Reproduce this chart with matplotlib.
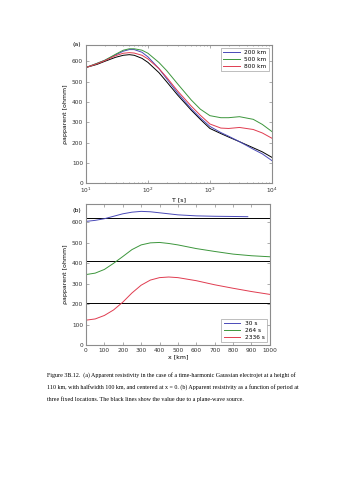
import matplotlib
matplotlib.use('Agg')
import matplotlib.pyplot as plt

# (a) apparent resistivity vs period
T = [10, 15, 20, 30, 40, 50, 60, 80, 100, 150, 200, 300, 500, 700, 1000, 1500, 2000, 3000, 5000, 7000, 10000]
rho_plane = [570, 585, 600, 620, 630, 633, 630, 615, 595, 545, 500, 435, 360, 315, 270, 245, 228, 205, 175, 155, 128]
rho_200 = [570, 590, 605, 632, 650, 658, 658, 645, 622, 565, 515, 445, 367, 322, 280, 250, 232, 205, 168, 145, 112]
rho_500 = [570, 590, 605, 635, 655, 662, 662, 655, 640, 595, 555, 490, 410, 365, 333, 323, 323, 328, 315, 290, 255]
rho_800 = [570, 588, 603, 628, 640, 643, 641, 630, 612, 565, 522, 455, 380, 335, 292, 272, 270, 275, 265, 248, 222]
labels_a = ['200 km', '500 km', '800 km']

# (b) apparent resistivity vs position
x_30 = [0, 50, 100, 150, 200, 250, 300, 350, 400, 450, 500, 600, 700, 800, 880]
rho_30 = [605, 610, 618, 630, 642, 650, 654, 652, 647, 642, 637, 632, 630, 629, 628]
x_km = [0, 50, 100, 150, 200, 250, 300, 350, 400, 450, 500, 600, 700, 800, 900, 1000]
rho_264 = [345, 352, 370, 400, 433, 467, 490, 500, 502, 497, 490, 472, 458, 445, 437, 432]
rho_2336 = [122, 128, 145, 172, 210, 255, 293, 318, 330, 333, 330, 315, 295, 278, 262, 248]
plane_b = [622, 413, 208]
labels_b = ['30 s', '264 s', '2336 s']

blue = '#4a4ab8'
green = '#3c963c'
red = '#e03c50'
frame = '#8c8c8c'

fig = plt.figure(figsize=(3.38, 4.80), dpi=100)


def style(ax):
    for s in ax.spines.values():
        s.set_color(frame)
        s.set_linewidth(0.8)
    ax.tick_params(which='both', direction='in', top=True, right=True,
                   labelsize=4.2, colors=frame, labelcolor='#333333', length=2, width=0.5, pad=2)
    ax.tick_params(which='minor', length=1)


ax1 = fig.add_axes([0.2544, 0.618, 0.550, 0.288])
ax1.semilogx(T, rho_plane, color='black', lw=0.7)
ax1.semilogx(T, rho_200, color=blue, lw=0.7, label=labels_a[0])
ax1.semilogx(T, rho_500, color=green, lw=0.7, label=labels_a[1])
ax1.semilogx(T, rho_800, color=red, lw=0.7, label=labels_a[2])
ax1.set_xlim(10, 10000)
ax1.set_ylim(0, 680)
ax1.set_yticks(range(0, 700, 100))
ax1.set_xlabel('T [s]', fontsize=4.5, labelpad=1)
ax1.set_ylabel('ρapparent [ohmm]', fontsize=4.5, labelpad=3)
style(ax1)
leg = ax1.legend(loc='upper right', fontsize=4.2, frameon=True, fancybox=False,
                 edgecolor=frame, handlelength=2.8, borderpad=0.4, labelspacing=0.3)
leg.get_frame().set_linewidth(0.5)
fig.text(0.215, 0.905, '(a)', fontsize=4.5)

ax2 = fig.add_axes([0.2544, 0.281, 0.544, 0.294])
for v in plane_b:
    ax2.axhline(v, color='black', lw=0.7)
ax2.plot(x_30, rho_30, color=blue, lw=0.7, label=labels_b[0])
ax2.plot(x_km, rho_264, color=green, lw=0.7, label=labels_b[1])
ax2.plot(x_km, rho_2336, color=red, lw=0.7, label=labels_b[2])
ax2.set_xlim(0, 1000)
ax2.set_ylim(0, 690)
ax2.set_xticks(range(0, 1100, 100))
ax2.set_yticks(range(0, 700, 100))
ax2.set_xlabel('x [km]', fontsize=4.5, labelpad=1)
ax2.set_ylabel('ρapparent [ohmm]', fontsize=4.5, labelpad=3)
style(ax2)
leg2 = ax2.legend(loc='lower right', fontsize=4.2, frameon=True, fancybox=False,
                  edgecolor=frame, handlelength=2.8, borderpad=0.4, labelspacing=0.3)
leg2.get_frame().set_linewidth(0.5)
fig.text(0.215, 0.558, '(b)', fontsize=4.5)

caption = ('Figure 3B.12.  (a) Apparent resistivity in the case of a time-harmonic Gaussian electrojet at a height of\n'
           '110 km, with halfwidth 100 km, and centered at x = 0. (b) Apparent resistivity as a function of period at\n'
           'three fixed locations. The black lines show the value due to a plane-wave source.')
fig.text(0.139, 0.225, caption, fontsize=4.3, family='Liberation Serif', va='top', linespacing=2.3)

fig.savefig('out.png', dpi=100)
